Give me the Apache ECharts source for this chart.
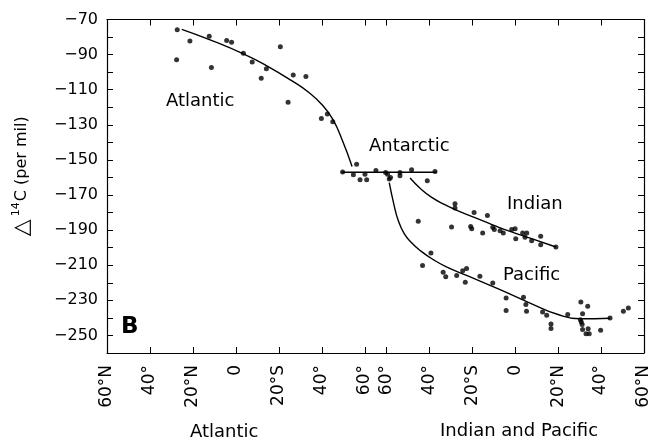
<!DOCTYPE html>
<html>
<head>
<meta charset="utf-8">
<script src="https://cdn.jsdelivr.net/npm/echarts@6/dist/echarts.min.js"></script>
<style>
  html, body { margin: 0; padding: 0; background: #fff; }
  #chart { width: 652px; height: 442px; }
</style>
</head>
<body>
<div id="chart"></div>
<script>
// x is a running latitude distance: Atlantic 60N (0) -> 60S (120), gap, Indo-Pacific 60S (130) -> 60N (250)
const xTickVals = [0, 20, 40, 60, 80, 100, 120, 130, 150, 170, 190, 210, 230, 250]
const xTickLabels = ['60°N', '40°', '20°N', '0', '20°S', '40°', '60°', '60°', '40°', '20°S', '0', '20°N', '40°', '60°N']
const yLabelVals = [-250, -230, -210, -190, -170, -150, -130, -110, -90, -70]

const atlanticPts = [[32.7,-75.8],[32.4,-92.9],[38.6,-82.2],[47.6,-79.6],[48.6,-97.4],[55.7,-82.0],[58.0,-83.0],
  [63.5,-89.2],[67.6,-94.2],[71.8,-103.4],[74.2,-98.0],[80.7,-85.5],[86.7,-101.6],[92.6,-102.5],[84.3,-117.1],
  [99.8,-126.4],[102.6,-123.9],[105.1,-128.3]]
const antarcticPts = [[116.2,-152.5],[109.7,-156.9],[114.7,-158.5],[117.8,-161.3],[120.9,-161.3],[120.1,-158.1],
  [125.2,-156.0],[129.7,-157.1],[130.6,-158.1],[131.4,-160.9],[132.0,-160.0],[136.4,-157.1],[136.4,-159.0],
  [141.8,-155.6],[149.1,-161.9],[152.7,-156.6]]
const indianPts = [[162.0,-175.0],[162.0,-177.4],[170.9,-179.9],[177.1,-181.6],[160.4,-188.2],[169.3,-187.9],
  [169.8,-189.2],[174.9,-191.6],[179.6,-188.4],[180.3,-189.7],[183.0,-190.3],[184.5,-191.6],[188.4,-189.7],
  [190.0,-189.2],[190.3,-194.9],[193.5,-191.6],[195.4,-191.6],[194.6,-194.1],[197.7,-196.0],[201.9,-193.5],
  [201.9,-198.3],[209.0,-199.6]]
const pacificPts = [[144.9,-185.0],[150.8,-203.0],[146.9,-210.2],[156.5,-214.0],[157.7,-216.6],[162.8,-215.9],
  [165.6,-213.1],[167.4,-211.9],[166.8,-219.7],[173.6,-216.3],[179.6,-220.1],[185.8,-228.6],[193.9,-228.3],
  [185.8,-235.8],[195.0,-232.4],[195.3,-236.2],[202.8,-236.6],[204.7,-238.5],[206.7,-243.5],[206.7,-246.0],
  [214.5,-238.1],[220.6,-230.9],[223.8,-233.4],[221.4,-237.7],[220.4,-241.0],[220.8,-242.4],[221.2,-243.8],
  [221.4,-246.6],[223.0,-249.0],[224.5,-249.0],[224.0,-246.2],[229.8,-247.0],[234.2,-240.0],[240.4,-236.2],
  [242.7,-234.3]]

// fitted curves
const atlanticFit = [[34.8,-75.6],[48,-81.6],[63.5,-89.6],[74.4,-96.4],[86.7,-105.4],[94,-111.6],[100,-118.4],
  [105,-126.6],[109.5,-138.6],[114.1,-153.7]]
const antarcticFit = [[109.2,-157],[153.5,-157]]
const indianFit = [[141.1,-160.3],[146,-166.4],[151,-171.2],[157,-175.3],[164,-179.3],[173.6,-184],[181.4,-187.9],
  [188,-190.9],[197,-194.6],[209,-199.6]]
const pacificFit = [[131.4,-163],[133.5,-175],[135.6,-184.5],[138.3,-191.8],[141.8,-197.2],[146,-201.8],
  [151.9,-206.8],[158,-210.9],[167.4,-215.8],[183,-223.9],[198.5,-232.4],[209.3,-237.8],[220.1,-240.5],[234.2,-240.2]]

const FONT = 'DejaVu Sans'
const chart = echarts.init(document.getElementById('chart'))

function dots (name, data) {
  return { name: name, type: 'scatter', data: data, symbolSize: 5, itemStyle: { color: '#000' }, z: 3 }
}
function fit (name, data) {
  return {
    name: name, type: 'line', data: data, showSymbol: false, symbol: 'none', smooth: 0.5,
    lineStyle: { color: '#000', width: 1.4 }, silent: true, z: 2
  }
}
function plotText (text, x, y, size) {
  return {
    type: 'text', left: x, top: y,
    style: { text: text, fill: '#000', font: size + 'px "' + FONT + '"' }
  }
}

const option = {
  animation: false,
  backgroundColor: '#fff',
  grid: { left: 107, right: 8, top: 19.5, bottom: 89, containLabel: false, outerBoundsMode: 'none' },
  xAxis: [
    {
      type: 'value', min: 0, max: 250, position: 'bottom',
      axisLine: { show: true, onZero: false, lineStyle: { color: '#000', width: 1.2 } },
      axisTick: { show: true, inside: true, length: 6, customValues: xTickVals, lineStyle: { color: '#000' } },
      axisLabel: {
        customValues: xTickVals, rotate: 90, margin: 12, color: '#000', fontSize: 17, fontFamily: FONT,
        formatter: v => xTickLabels[xTickVals.indexOf(v)]
      },
      splitLine: { show: false }
    },
    {
      type: 'value', min: 0, max: 250, position: 'top',
      axisLine: { show: true, onZero: false, lineStyle: { color: '#000', width: 1.2 } },
      axisTick: { show: true, inside: true, length: 6, customValues: xTickVals, lineStyle: { color: '#000' } },
      axisLabel: { show: false },
      splitLine: { show: false }
    }
  ],
  yAxis: [
    {
      type: 'value', min: -260, max: -70, interval: 10, position: 'left',
      axisLine: { show: true, onZero: false, lineStyle: { color: '#000', width: 1.2 } },
      axisTick: { show: true, inside: true, length: 6, lineStyle: { color: '#000' } },
      axisLabel: {
        customValues: yLabelVals, margin: 9, color: '#000', fontSize: 16, fontFamily: FONT,
        formatter: v => String(v).replace('-', '\u2212')
      },
      splitLine: { show: false },
      name: '{tri|△}{sup|14}{c|C (per mil)}',
      nameLocation: 'middle', nameRotate: 90, nameGap: 74,
      nameTextStyle: {
        color: '#000', fontFamily: FONT, padding: [0, 0, 0, 20],
        rich: {
          tri: { fontSize: 22, fontFamily: FONT, color: '#000', padding: [0, 3, 0, 0] },
          sup: { fontSize: 11, fontFamily: FONT, color: '#000', verticalAlign: 'top', padding: [0, 1, 0, 0] },
          c: { fontSize: 16, fontFamily: FONT, color: '#000' }
        }
      }
    },
    {
      type: 'value', min: -260, max: -70, interval: 10, position: 'right',
      axisLine: { show: true, onZero: false, lineStyle: { color: '#000', width: 1.2 } },
      axisTick: { show: true, inside: true, length: 6, lineStyle: { color: '#000' } },
      axisLabel: { show: false },
      splitLine: { show: false }
    }
  ],
  graphic: [
    plotText('Atlantic', 166, 92, 18),
    plotText('Antarctic', 369, 137, 18),
    plotText('Indian', 507, 195, 18),
    plotText('Pacific', 503, 266, 18),
    { type: 'text', left: 121, top: 316, style: { text: 'B', fill: '#000', font: 'bold 23px "' + FONT + '"' } },
    plotText('Atlantic', 190, 423, 18),
    plotText('Indian and Pacific', 440, 422, 18)
  ],
  series: [
    dots('Atlantic', atlanticPts),
    dots('Antarctic', antarcticPts),
    dots('Indian', indianPts),
    dots('Pacific', pacificPts),
    fit('Atlantic fit', atlanticFit),
    fit('Antarctic fit', antarcticFit),
    fit('Indian fit', indianFit),
    fit('Pacific fit', pacificFit)
  ]
}

chart.setOption(option)
</script>
</body>
</html>
